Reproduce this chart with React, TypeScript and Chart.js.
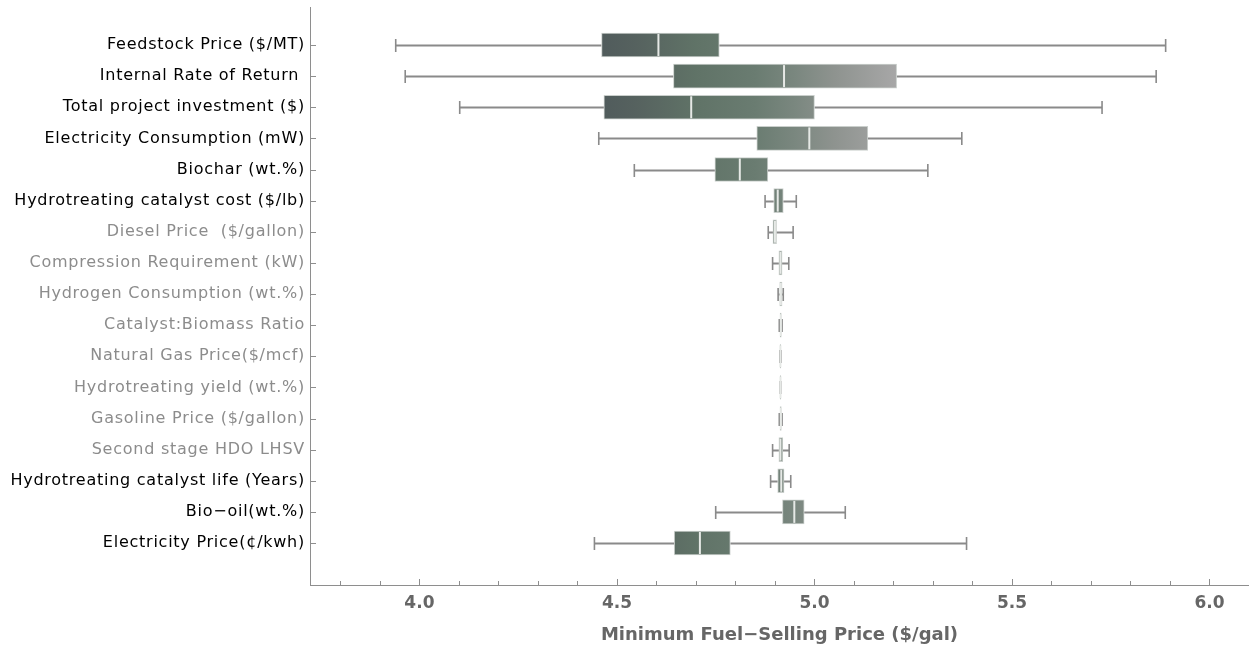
import React, { useEffect, useRef } from 'react';
import { Chart, registerables } from 'chart.js';

Chart.register(...registerables);

const categories = [
  'Feedstock Price ($/MT)',
  'Internal Rate of Return ',
  'Total project investment ($)',
  'Electricity Consumption (mW)',
  'Biochar (wt.%)',
  'Hydrotreating catalyst cost ($/lb)',
  'Diesel Price  ($/gallon)',
  'Compression Requirement (kW)',
  'Hydrogen Consumption (wt.%)',
  'Catalyst:Biomass Ratio',
  'Natural Gas Price($/mcf)',
  'Hydrotreating yield (wt.%)',
  'Gasoline Price ($/gallon)',
  'Second stage HDO LHSV',
  'Hydrotreating catalyst life (Years)',
  'Bio−oil(wt.%)',
  'Electricity Price(¢/kwh)',
];

const highlighted = [true, true, true, true, true, true, false, false, false, false, false, false, false, false, true, true, true];

const whiskerLow = [3.94, 3.964, 4.102, 4.454, 4.544, 4.875, 4.883, 4.894, 4.908, 4.911, 4.9125, 4.9135, 4.911, 4.894, 4.889, 4.75, 4.443];
const q1 = [4.461, 4.643, 4.467, 4.854, 4.748, 4.897, 4.895, 4.91, 4.912, 4.913, 4.9132, 4.9138, 4.913, 4.91, 4.907, 4.919, 4.645];
const median = [4.605, 4.923, 4.688, 4.987, 4.811, 4.907, 4.9, 4.914, 4.915, 4.915, 4.9138, 4.914, 4.915, 4.914, 4.916, 4.949, 4.71];
const q3 = [4.759, 5.208, 5.0, 5.135, 4.882, 4.921, 4.904, 4.918, 4.918, 4.916, 4.9142, 4.9142, 4.916, 4.92, 4.923, 4.974, 4.787];
const whiskerHigh = [5.889, 5.865, 5.728, 5.373, 5.287, 4.954, 4.946, 4.935, 4.921, 4.918, 4.915, 4.9145, 4.918, 4.936, 4.94, 5.078, 5.385];

const xMajorTicks = [4.0, 4.5, 5.0, 5.5, 6.0];
const xMinorStep = 0.1;

const gradientStops: [number, string][] = [
  [4.4, '#4d575a'],
  [4.55, '#56625f'],
  [4.7, '#607367'],
  [4.85, '#6a7c71'],
  [4.95, '#7a877f'],
  [5.05, '#8e938f'],
  [5.2, '#a6a6a6'],
];

const BOX_H = 24;
const FALLBACK = '#667a6e';

function makeGradient(chart: any) {
  const x = chart.scales && chart.scales.x;
  if (!x || !chart.chartArea) return FALLBACK;
  const g0 = gradientStops[0][0];
  const g1 = gradientStops[gradientStops.length - 1][0];
  const p0 = x.getPixelForValue(g0);
  const p1 = x.getPixelForValue(g1);
  if (!isFinite(p0) || !isFinite(p1) || p0 === p1) return FALLBACK;
  const g = chart.ctx.createLinearGradient(p0, 0, p1, 0);
  gradientStops.forEach(([v, c]) => g.addColorStop((v - g0) / (g1 - g0), c));
  return g;
}

const boxPlugin = {
  id: 'boxExtras',
  beforeDraw(chart: any) {
    const yScale = chart.scales.y;
    if (yScale && !yScale.__spaced) {
      const orig = yScale.drawLabels;
      yScale.drawLabels = function (area: any) {
        const c = this.ctx;
        const prev = c.letterSpacing;
        c.letterSpacing = '0.75px';
        orig.call(this, area);
        c.letterSpacing = prev || '0px';
      };
      yScale.__spaced = true;
    }
  },
  beforeDatasetsDraw(chart: any) {
    const { ctx, scales } = chart;
    const x = scales.x;
    const y = scales.y;
    const grad = makeGradient(chart);
    chart.getDatasetMeta(0).data.forEach((el: any) => {
      if (el.options) el.options.backgroundColor = grad;
    });
    ctx.save();
    ctx.strokeStyle = '#8a8a8a';
    categories.forEach((_, i) => {
      const yc = Math.round(y.getPixelForValue(i)) + 0.5;
      const xl = x.getPixelForValue(whiskerLow[i]);
      const xa = x.getPixelForValue(q1[i]);
      const xb = x.getPixelForValue(q3[i]);
      const xh = x.getPixelForValue(whiskerHigh[i]);
      ctx.lineWidth = 2;
      ctx.beginPath();
      ctx.moveTo(xl, yc);
      ctx.lineTo(xa, yc);
      ctx.moveTo(xb, yc);
      ctx.lineTo(xh, yc);
      ctx.stroke();
      ctx.lineWidth = 1.6;
      ctx.beginPath();
      ctx.moveTo(xl, yc - 6.5);
      ctx.lineTo(xl, yc + 6.5);
      ctx.moveTo(xh, yc - 6.5);
      ctx.lineTo(xh, yc + 6.5);
      ctx.stroke();
    });
    ctx.restore();
  },
  afterDatasetsDraw(chart: any) {
    const { ctx, scales } = chart;
    const x = scales.x;
    const y = scales.y;
    ctx.save();
    ctx.strokeStyle = '#e6e9e6';
    ctx.lineWidth = 2;
    categories.forEach((_, i) => {
      const yc = y.getPixelForValue(i);
      const xm = x.getPixelForValue(median[i]);
      ctx.beginPath();
      ctx.moveTo(xm, yc - BOX_H / 2 + 1);
      ctx.lineTo(xm, yc + BOX_H / 2 - 1);
      ctx.stroke();
    });
    ctx.restore();
  },
  afterDraw(chart: any) {
    const { ctx, scales, chartArea } = chart;
    const x = scales.x;
    const y = scales.y;
    ctx.save();
    ctx.strokeStyle = '#8e8e8e';
    ctx.lineWidth = 1;
    categories.forEach((_, i) => {
      const yc = Math.round(y.getPixelForValue(i)) + 0.5;
      ctx.beginPath();
      ctx.moveTo(chartArea.left, yc);
      ctx.lineTo(chartArea.left + 6, yc);
      ctx.stroke();
    });
    const start = Math.ceil(x.min / xMinorStep);
    const end = Math.floor(x.max / xMinorStep);
    for (let k = start; k <= end; k++) {
      const v = k * xMinorStep;
      const isMajor = xMajorTicks.some((m) => Math.abs(m - v) < 1e-6);
      const px = Math.round(x.getPixelForValue(v)) + 0.5;
      ctx.beginPath();
      ctx.moveTo(px, chartArea.bottom);
      ctx.lineTo(px, chartArea.bottom - (isMajor ? 6 : 4));
      ctx.stroke();
    }
    ctx.restore();
  },
};

export default function App() {
  const canvasRef = useRef<HTMLCanvasElement | null>(null);

  useEffect(() => {
    if (!canvasRef.current) return;
    const chart = new Chart(canvasRef.current, {
      type: 'bar',
      data: {
        datasets: [
          {
            label: 'MFSP',
            data: categories.map((_, i) => ({ x: [q1[i], q3[i]], y: i })) as any,
            backgroundColor: FALLBACK,
            borderColor: 'rgba(196,202,198,0.9)',
            borderWidth: 1,
            borderSkipped: false,
            barThickness: BOX_H,
          },
        ],
      },
      options: {
        indexAxis: 'y',
        responsive: false,
        animation: false,
        layout: { padding: { top: 7, left: 0, right: 0, bottom: 0 } },
        plugins: {
          legend: { display: false },
          tooltip: { enabled: false },
        },
        scales: {
          x: {
            type: 'linear',
            min: 3.723,
            max: 6.1,
            afterBuildTicks: (s: any) => {
              s.ticks = xMajorTicks.map((v) => ({ value: v }));
            },
            afterFit: (s: any) => {
              s.height = 61;
              s.paddingLeft = 0;
              s.paddingRight = 0;
            },
            ticks: {
              callback: (v: any) => Number(v).toFixed(1),
              color: '#666666',
              font: { family: 'DejaVu Sans', weight: 'bold', size: 17 },
              padding: 8,
              maxRotation: 0,
              autoSkip: false,
            },
            grid: { display: true, drawOnChartArea: false, drawTicks: false },
            border: { display: true, color: '#8e8e8e', width: 1 },
            title: {
              display: true,
              text: 'Minimum Fuel−Selling Price ($/gal)',
              color: '#666666',
              font: { family: 'DejaVu Sans', weight: 'bold', size: 18 },
              padding: { top: 4, bottom: 0 },
            },
          },
          y: {
            type: 'linear',
            reverse: true,
            offset: false,
            min: -1.221,
            max: 17.349,
            afterBuildTicks: (s: any) => {
              s.ticks = categories.map((_, i) => ({ value: i }));
            },
            afterFit: (s: any) => {
              s.width = 310;
              s.paddingTop = 0;
              s.paddingBottom = 0;
            },
            ticks: {
              callback: (v: any) => categories[Number(v)] ?? '',
              color: (ctx: any) => (highlighted[ctx.tick ? ctx.tick.value : ctx.index] ? '#000000' : '#8c8c8c'),
              font: { family: 'DejaVu Sans', size: 16 },
              padding: 5,
              autoSkip: false,
            },
            grid: { display: true, drawOnChartArea: false, drawTicks: false },
            border: { display: true, color: '#8e8e8e', width: 1 },
          },
        },
      },
      plugins: [boxPlugin],
    });
    return () => chart.destroy();
  }, []);

  return (
    <div style={{ position: 'absolute', left: 0, top: 0, width: 1249, height: 646 }}>
      <canvas ref={canvasRef} width={1249} height={646} />
    </div>
  );
}
